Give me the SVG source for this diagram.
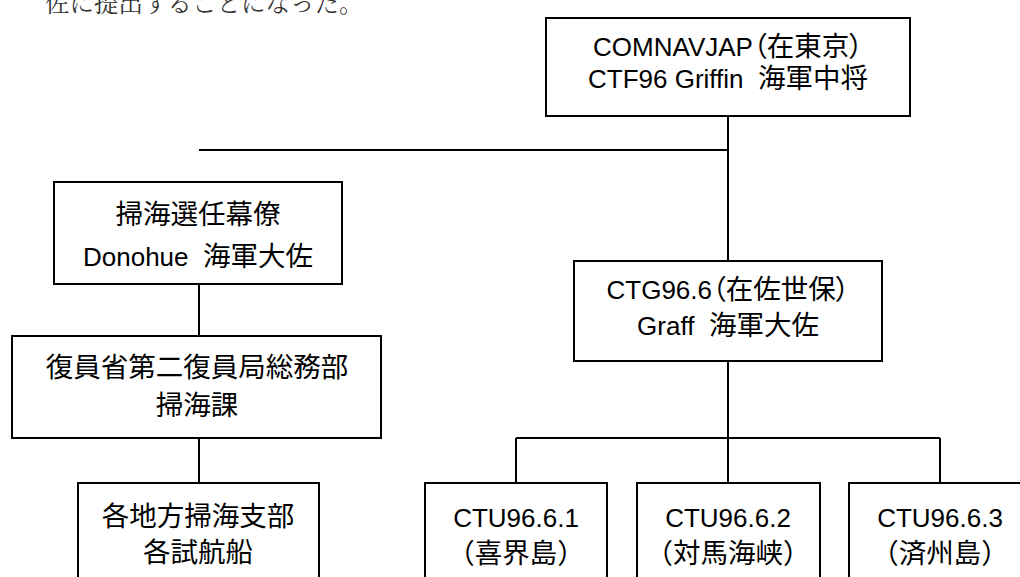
<svg xmlns="http://www.w3.org/2000/svg" width="1020" height="577" viewBox="0 0 1020 577">
<style>
.box{fill:#fff;stroke:#000;stroke-width:2}
.conn{fill:none;stroke:#000;stroke-width:2}
text{font-family:"Liberation Sans","Noto Sans CJK JP",sans-serif;font-size:26px;fill:#000;text-anchor:middle}
.j{font-family:"Noto Sans CJK JP",sans-serif;font-size:27.5px}
.p{font-family:"Noto Sans CJK JP",sans-serif;font-size:27.5px;font-feature-settings:"palt"}
.intro{font-family:"Noto Serif CJK JP","Noto Sans CJK JP",serif;font-size:24.5px;text-anchor:start;fill:#333}
</style>
<rect width="1020" height="577" fill="#fff"/>
<text class="intro" x="45" y="12">佐に提出することになった。</text>
<g id="connectors">
<path class="conn" d="M728 116V150M199 150H728V261M199 284V336M199 438V483M728 361V483M516 438H940M516 438V483M940 438V483"/>
</g>
<g id="n-top">
<rect class="box" x="546" y="18" width="364" height="98"/>
<text x="728" y="56">COMNAVJAP<tspan class="p">（</tspan><tspan class="j">在東京</tspan><tspan class="p">）</tspan></text>
<text x="728" y="88">CTF96 Griffin&#160;&#160;<tspan class="j">海軍中将</tspan></text>
</g>
<g id="n-sweep-staff">
<rect class="box" x="54" y="182" width="288" height="102"/>
<text x="198" y="224" class="j">掃海選任幕僚</text>
<text x="198" y="266">Donohue&#160;&#160;<tspan class="j">海軍大佐</tspan></text>
</g>
<g id="n-demob">
<rect class="box" x="12" y="336" width="369" height="102"/>
<text x="197" y="377" class="j">復員省第二復員局総務部</text>
<text x="197" y="415" class="j">掃海課</text>
</g>
<g id="n-local">
<rect class="box" x="78" y="483" width="241" height="110"/>
<text x="198" y="526" class="j">各地方掃海支部</text>
<text x="198" y="562" class="j">各試航船</text>
</g>
<g id="n-ctg">
<rect class="box" x="574" y="261" width="308" height="100"/>
<text x="728" y="299">CTG96.6<tspan class="p">（</tspan><tspan class="j">在佐世保</tspan><tspan class="p">）</tspan></text>
<text x="728" y="335">Graff&#160;&#160;<tspan class="j">海軍大佐</tspan></text>
</g>
<g id="n-ctu1">
<rect class="box" x="425" y="483" width="182" height="110"/>
<text x="516" y="527">CTU96.6.1</text>
<text x="516" y="563" class="j">（喜界島）</text>
</g>
<g id="n-ctu2">
<rect class="box" x="637" y="483" width="183" height="110"/>
<text x="728" y="527">CTU96.6.2</text>
<text x="728" y="563" class="j">（対馬海峡）</text>
</g>
<g id="n-ctu3">
<rect class="box" x="849" y="483" width="182" height="110"/>
<text x="940" y="527">CTU96.6.3</text>
<text x="940" y="563" class="j">（済州島）</text>
</g>
</svg>
